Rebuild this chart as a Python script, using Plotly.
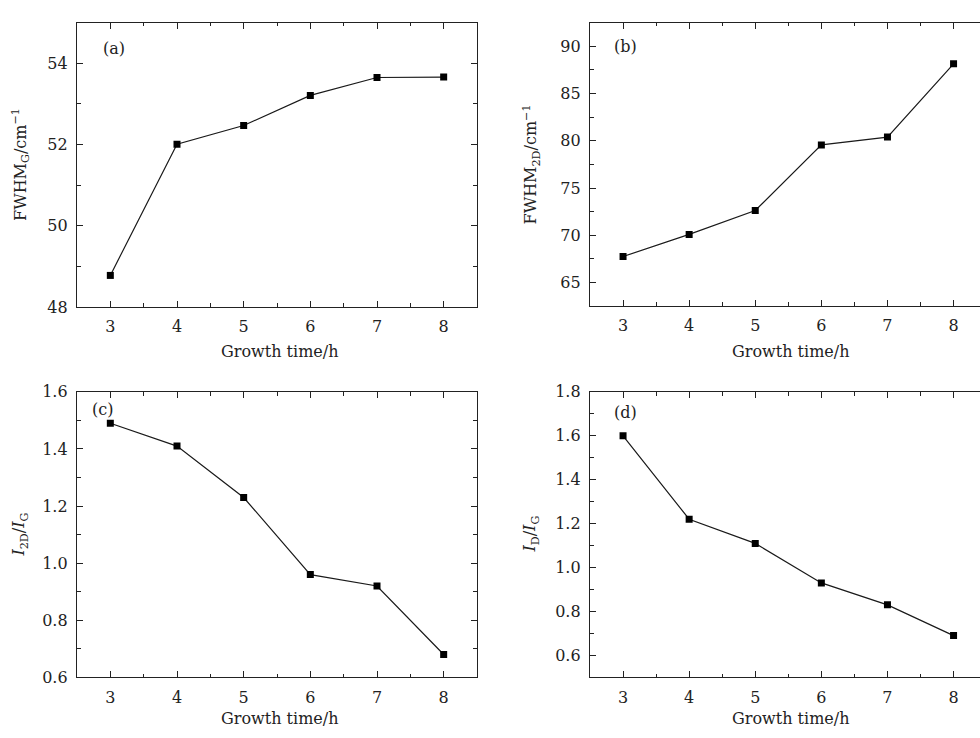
import plotly.graph_objects as go

growth_time = [3, 4, 5, 6, 7, 8]
fwhm_g = [48.78, 52.01, 52.47, 53.21, 53.65, 53.66]
fwhm_2d = [67.75, 70.09, 72.62, 79.56, 80.39, 88.14]
i2d_ig = [1.49, 1.41, 1.23, 0.96, 0.92, 0.68]
id_ig = [1.60, 1.22, 1.11, 0.93, 0.83, 0.69]

W, H = 980, 738
FONT = "DejaVu Serif"
INK = "#222"

fig = go.Figure()

panels = [
    dict(ax="", y=fwhm_g, xpx=(77, 477), ypx=(14, 306), xr=[2.5, 8.5], yr=[48, 55], dt=2, mdt=1, fmt="d",
         lab="(a)", lpos=(114, 41), yt="FWHM<sub>G</sub>/cm<sup>−1</sup>", ytx=21, xtc=279, xty=352,
         mirror_y="allticks"),
    dict(ax="2", y=fwhm_2d, xpx=(590, 980), ypx=(14, 305), xr=[2.5, 8.40], yr=[62.5, 92.5], dt=5, mdt=2.5,
         fmt="d", lab="(b)", lpos=(625, 39), yt="FWHM<sub>2D</sub>/cm<sup>−1</sup>", ytx=531, xtc=790, xty=352,
         mirror_y=False),
    dict(ax="3", y=i2d_ig, xpx=(77, 477), ypx=(393, 686), xr=[2.5, 8.5], yr=[0.6, 1.6], dt=0.2, mdt=0.1,
         fmt=".1f", lab="(c)", lpos=(102, 411), yt="<i>I</i><sub>2D</sub>/<i>I</i><sub>G</sub>", ytx=20,
         xtc=279, xty=728, mirror_y="allticks"),
    dict(ax="4", y=id_ig, xpx=(590, 980), ypx=(393, 686), xr=[2.5, 8.40], yr=[0.5, 1.8], dt=0.2, mdt=0.1,
         fmt=".1f", lab="(d)", lpos=(625, 414), yt="<i>I</i><sub>D</sub>/<i>I</i><sub>G</sub>", ytx=531,
         xtc=790, xty=728, mirror_y=False),
]

annotations = []
for p in panels:
    fig.add_trace(go.Scatter(
        x=growth_time, y=p["y"], mode="lines+markers",
        line=dict(color="#1a1a1a", width=1.2),
        marker=dict(symbol="square", size=7, color="black"),
        xaxis="x" + p["ax"], yaxis="y" + p["ax"], showlegend=False,
    ))
    x0, x1 = p["xpx"]
    yt, yb = p["ypx"]
    xdom = [x0 / W, min(x1 / W, 1.0)]
    ydom = [(H - yb) / H, (H - yt) / H]
    common = dict(showline=True, linecolor=INK, linewidth=1.3, ticks="inside",
                  ticklen=6, tickwidth=1, tickcolor=INK, showgrid=False, zeroline=False,
                  tickfont=dict(family=FONT, size=16, color=INK))
    xa = dict(common, domain=xdom, range=p["xr"], dtick=1, tick0=0, mirror="allticks",
              minor=dict(dtick=0.5, ticks="inside", ticklen=3.5, tickcolor=INK),
              anchor="y" + p["ax"], ticklabelstandoff=5)
    ya = dict(common, domain=ydom, range=p["yr"], dtick=p["dt"], tick0=0, mirror=p["mirror_y"],
              tickformat=p["fmt"],
              minor=dict(dtick=p["mdt"], ticks="inside", ticklen=3.5, tickcolor=INK),
              anchor="x" + p["ax"], ticklabelstandoff=5)
    key = p["ax"]
    fig.update_layout(**{"xaxis" + key: xa, "yaxis" + key: ya})

    ann_common = dict(xref="paper", yref="paper", showarrow=False, xanchor="center", yanchor="middle",
                      font=dict(family=FONT, size=16, color=INK))
    annotations.append(dict(ann_common, text=p["lab"], x=p["lpos"][0] / W, y=(H - p["lpos"][1]) / H))
    annotations.append(dict(ann_common, text="Growth time/h", x=p["xtc"] / W, y=(H - p["xty"]) / H))
    annotations.append(dict(ann_common, text=p["yt"], x=p["ytx"] / W, y=(H - (yt + yb) / 2) / H,
                            textangle=-90))

fig.update_layout(width=W, height=H, autosize=False, margin=dict(l=0, r=0, t=0, b=0),
                  paper_bgcolor="white", plot_bgcolor="white", annotations=annotations)

post = (
    "var gd=document.getElementById('{plot_id}');"
    "gd.style.position='fixed';gd.style.top='0px';gd.style.left='0px';"
    "document.body.style.margin='0';document.body.style.overflow='hidden';"
    "document.documentElement.style.overflow='hidden';"
)
fig.write_html("out.html", config={"displayModeBar": False}, post_script=post)
